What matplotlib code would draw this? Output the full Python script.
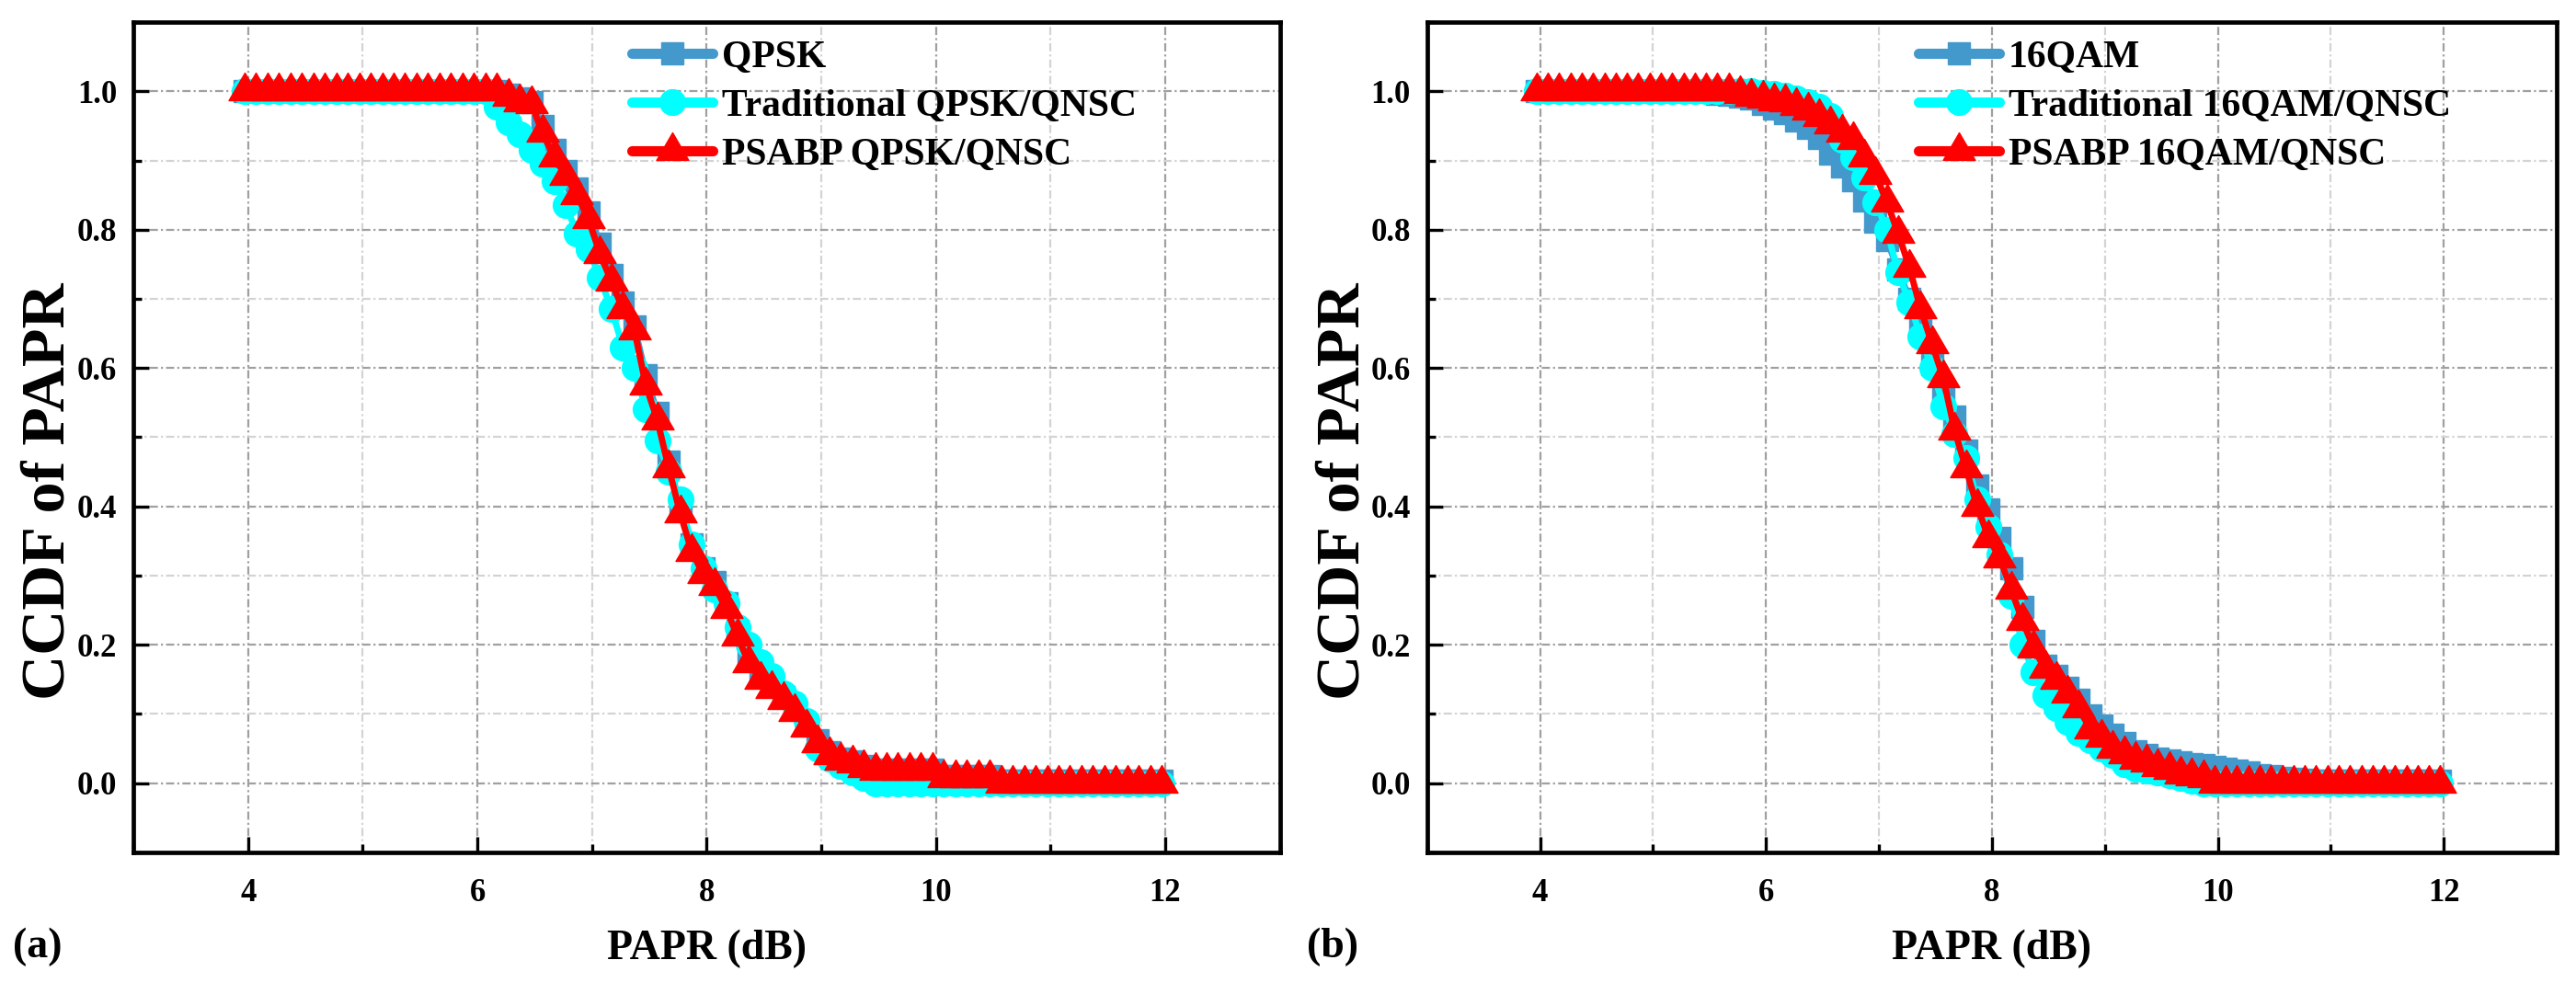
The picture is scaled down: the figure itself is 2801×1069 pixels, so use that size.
import matplotlib
matplotlib.use("Agg")
import matplotlib.pyplot as plt
from matplotlib.path import Path
from matplotlib.ticker import MultipleLocator

plt.rcParams['font.family'] = ['Liberation Serif', 'DejaVu Serif']
plt.rcParams['font.weight'] = 'bold'

# ---------------- data ----------------
papr_db = [3.97, 4.07, 4.17, 4.27, 4.37, 4.47, 4.57, 4.67, 4.77, 4.87,
           4.97, 5.07, 5.17, 5.27, 5.37, 5.47, 5.57, 5.67, 5.77, 5.87,
           5.97, 6.07, 6.17, 6.27, 6.37, 6.47, 6.57, 6.67, 6.77, 6.87,
           6.97, 7.07, 7.17, 7.27, 7.37, 7.47, 7.57, 7.67, 7.77, 7.87,
           7.97, 8.07, 8.17, 8.27, 8.37, 8.47, 8.57, 8.67, 8.77, 8.87,
           8.97, 9.07, 9.17, 9.27, 9.37, 9.47, 9.57, 9.67, 9.77, 9.87,
           9.97, 10.07, 10.17, 10.27, 10.37, 10.47, 10.57, 10.67, 10.77, 10.87,
           10.97, 11.07, 11.17, 11.27, 11.37, 11.47, 11.57, 11.67, 11.77, 11.87,
           11.97]

# (a) QPSK
qpsk = [1.0, 1.0, 1.0, 1.0, 1.0, 1.0, 1.0, 1.0, 1.0, 1.0,
        1.0, 1.0, 1.0, 1.0, 1.0, 1.0, 1.0, 1.0, 1.0, 1.0,
        1.0, 1.0, 1.0, 0.995, 0.99, 0.985, 0.95, 0.915, 0.885, 0.86,
        0.825, 0.78, 0.735, 0.695, 0.66, 0.59, 0.535, 0.465, 0.40, 0.345,
        0.31, 0.29, 0.26, 0.22, 0.18, 0.158, 0.142, 0.125, 0.107, 0.085,
        0.062, 0.045, 0.036, 0.031, 0.025, 0.02, 0.02, 0.02, 0.02, 0.02,
        0.02, 0.01, 0.01, 0.01, 0.01, 0.01, 0.003, 0.003, 0.003, 0.003,
        0.003, 0.003, 0.003, 0.003, 0.003, 0.003, 0.003, 0.003, 0.003, 0.003,
        0.003]
trad_qpsk = [1.0, 1.0, 1.0, 1.0, 1.0, 1.0, 1.0, 1.0, 1.0, 1.0,
             1.0, 1.0, 1.0, 1.0, 1.0, 1.0, 1.0, 1.0, 1.0, 1.0,
             1.0, 1.0, 0.978, 0.955, 0.938, 0.915, 0.895, 0.87, 0.835, 0.795,
             0.772, 0.73, 0.685, 0.63, 0.60, 0.54, 0.495, 0.45, 0.41, 0.345,
             0.31, 0.28, 0.26, 0.225, 0.20, 0.175, 0.155, 0.13, 0.115, 0.09,
             0.05, 0.035, 0.025, 0.015, 0.008, 0.0, 0.0, 0.0, 0.0, 0.0,
             0.0, 0.0, 0.0, 0.0, 0.0, 0.0, 0.0, 0.0, 0.0, 0.0,
             0.0, 0.0, 0.0, 0.0, 0.0, 0.0, 0.0, 0.0, 0.0, 0.0,
             0.0]
psabp_qpsk = [1.0, 1.0, 1.0, 1.0, 1.0, 1.0, 1.0, 1.0, 1.0, 1.0,
              1.0, 1.0, 1.0, 1.0, 1.0, 1.0, 1.0, 1.0, 1.0, 1.0,
              1.0, 1.0, 1.0, 0.992, 0.985, 0.982, 0.94, 0.905, 0.878, 0.85,
              0.815, 0.765, 0.725, 0.685, 0.655, 0.575, 0.525, 0.455, 0.39, 0.335,
              0.302, 0.285, 0.252, 0.212, 0.173, 0.15, 0.137, 0.12, 0.103, 0.08,
              0.058, 0.04, 0.033, 0.029, 0.022, 0.018, 0.018, 0.018, 0.018, 0.018,
              0.018, 0.008, 0.008, 0.008, 0.008, 0.008, 0.0, 0.0, 0.0, 0.0,
              0.0, 0.0, 0.0, 0.0, 0.0, 0.0, 0.0, 0.0, 0.0, 0.0,
              0.0]

# (b) 16QAM
qam16 = [1.0, 1.0, 1.0, 1.0, 1.0, 1.0, 1.0, 1.0, 1.0, 1.0,
         1.0, 1.0, 1.0, 1.0, 1.0, 1.0, 0.997, 0.995, 0.993, 0.99,
         0.982, 0.975, 0.968, 0.958, 0.947, 0.932, 0.91, 0.892, 0.872, 0.842,
         0.812, 0.785, 0.742, 0.70, 0.66, 0.605, 0.568, 0.53, 0.48, 0.43,
         0.395, 0.355, 0.31, 0.255, 0.205, 0.17, 0.155, 0.138, 0.12, 0.098,
         0.083, 0.07, 0.058, 0.046, 0.04, 0.036, 0.033, 0.03, 0.028, 0.026,
         0.024, 0.021, 0.018, 0.015, 0.012, 0.01, 0.008, 0.006, 0.005, 0.003,
         0.003, 0.003, 0.003, 0.003, 0.003, 0.003, 0.003, 0.003, 0.003, 0.003,
         0.003]
trad_qam16 = [1.0, 1.0, 1.0, 1.0, 1.0, 1.0, 1.0, 1.0, 1.0, 1.0,
              1.0, 1.0, 1.0, 1.0, 1.0, 1.0, 1.0, 1.0, 1.0, 1.0,
              0.998, 0.996, 0.994, 0.99, 0.985, 0.978, 0.965, 0.93, 0.905, 0.875,
              0.84, 0.80, 0.738, 0.695, 0.645, 0.60, 0.545, 0.505, 0.47, 0.41,
              0.37, 0.33, 0.27, 0.20, 0.16, 0.127, 0.108, 0.088, 0.073, 0.062,
              0.05, 0.04, 0.028, 0.021, 0.018, 0.015, 0.012, 0.008, 0.004, 0.0,
              0.0, 0.0, 0.0, 0.0, 0.0, 0.0, 0.0, 0.0, 0.0, 0.0,
              0.0, 0.0, 0.0, 0.0, 0.0, 0.0, 0.0, 0.0, 0.0, 0.0,
              0.0]
psabp_qam16 = [1.0, 1.0, 1.0, 1.0, 1.0, 1.0, 1.0, 1.0, 1.0, 1.0,
               1.0, 1.0, 1.0, 1.0, 1.0, 1.0, 1.0, 1.0, 0.997, 0.993,
               0.99, 0.986, 0.984, 0.979, 0.972, 0.963, 0.953, 0.94, 0.93, 0.905,
               0.88, 0.84, 0.795, 0.745, 0.685, 0.635, 0.585, 0.51, 0.455, 0.40,
               0.355, 0.325, 0.28, 0.235, 0.195, 0.165, 0.15, 0.13, 0.108, 0.078,
               0.066, 0.05, 0.042, 0.034, 0.03, 0.024, 0.02, 0.013, 0.01, 0.008,
               0.0, 0.0, 0.0, 0.0, 0.0, 0.0, 0.0, 0.0, 0.0, 0.0,
               0.0, 0.0, 0.0, 0.0, 0.0, 0.0, 0.0, 0.0, 0.0, 0.0,
               0.0]

labels_a = ["QPSK", "Traditional QPSK/QNSC", "PSABP QPSK/QNSC"]
labels_b = ["16QAM", "Traditional 16QAM/QNSC", "PSABP 16QAM/QNSC"]
panel_tags = ["(a)", "(b)"]
x_ticks = [4, 6, 8, 10, 12]
y_ticks = [0.0, 0.2, 0.4, 0.6, 0.8, 1.0]

# ---------------- style ----------------
BLUE = '#4499CC'
CYAN = '#00FFFF'
RED = '#FF0000'
# triangle with its centroid at the data point (as in Origin)
TRI = Path([(0, 2), (-1.75, -1), (1.75, -1), (0, 2)],
           [Path.MOVETO, Path.LINETO, Path.LINETO, Path.CLOSEPOLY])

fig = plt.figure(figsize=(28.01, 10.69), dpi=100)
ax_a = fig.add_axes([0.0518, 0.133, 0.445, 0.8445])
ax_b = fig.add_axes([0.5540, 0.133, 0.4385, 0.8445])

panels = [
    (ax_a, [qpsk, trad_qpsk, psabp_qpsk], labels_a, panel_tags[0]),
    (ax_b, [qam16, trad_qam16, psabp_qam16], labels_b, panel_tags[1]),
]

for ax, series, labels, tag in panels:
    s_blue, s_cyan, s_red = series
    ax.plot(papr_db, s_blue, color=BLUE, lw=5, marker='s', ms=17,
            mec=BLUE, mfc=BLUE, label=labels[0], zorder=3,
            solid_capstyle='round')
    ax.plot(papr_db, s_cyan, color=CYAN, lw=5, marker='o', ms=20,
            mec=CYAN, mfc=CYAN, label=labels[1], zorder=4,
            solid_capstyle='round')
    ax.plot(papr_db, s_red, color=RED, lw=5, marker=TRI, ms=28.8,
            mec=RED, mfc=RED, label=labels[2], zorder=5,
            solid_capstyle='round')

    ax.set_xlim(3, 13)
    ax.set_ylim(-0.1, 1.1)
    ax.set_xticks(x_ticks)
    ax.set_yticks(y_ticks)
    ax.set_yticklabels([f"{v:.1f}" for v in y_ticks])
    ax.xaxis.set_minor_locator(MultipleLocator(1))
    ax.yaxis.set_minor_locator(MultipleLocator(0.1))

    ax.grid(which='major', color='#A0A0A0', lw=1.6,
            linestyle=(0, (4, 1.5, 1, 1.5)), zorder=0)
    ax.grid(which='minor', color='#D3D3D3', lw=1.6,
            linestyle=(0, (4, 1.5, 1, 1.5)), zorder=0)
    ax.set_axisbelow(True)

    for sp in ax.spines.values():
        sp.set_linewidth(3.4)
    ax.tick_params(which='major', direction='in', length=12, width=2.4,
                   labelsize=25, top=False, right=False)
    ax.tick_params(which='minor', direction='in', length=6.5, width=2.4,
                   top=False, right=False)
    ax.tick_params(axis='x', which='major', pad=20)
    ax.tick_params(axis='y', which='major', pad=13)
    for lab in ax.get_xticklabels() + ax.get_yticklabels():
        lab.set_fontweight('bold')

    ax.set_xlabel("PAPR (dB)", fontsize=33, fontweight='bold', va='center')
    ax.xaxis.set_label_coords(0.5, -0.116)
    ax.set_ylabel("CCDF of PAPR", fontsize=49, fontweight='bold', va='center')
    ax.yaxis.set_label_coords(-0.074, 0.435)

    leg = ax.legend(loc='upper left', bbox_to_anchor=(0.435, 0.978),
                    frameon=False, handlelength=2.1,
                    handletextpad=0.25, labelspacing=0.35, borderpad=0.0,
                    borderaxespad=0.0, prop={'weight': 'bold', 'size': 30})
    for line in leg.get_lines():
        line.set_linewidth(8)
        line.set_solid_capstyle('round')

    pos = ax.get_position()
    fig.text(pos.x0 - 0.0468, 0.0365, tag, fontsize=33, fontweight='bold',
             ha='left', va='center')

fig.savefig("out.png", dpi=100)
